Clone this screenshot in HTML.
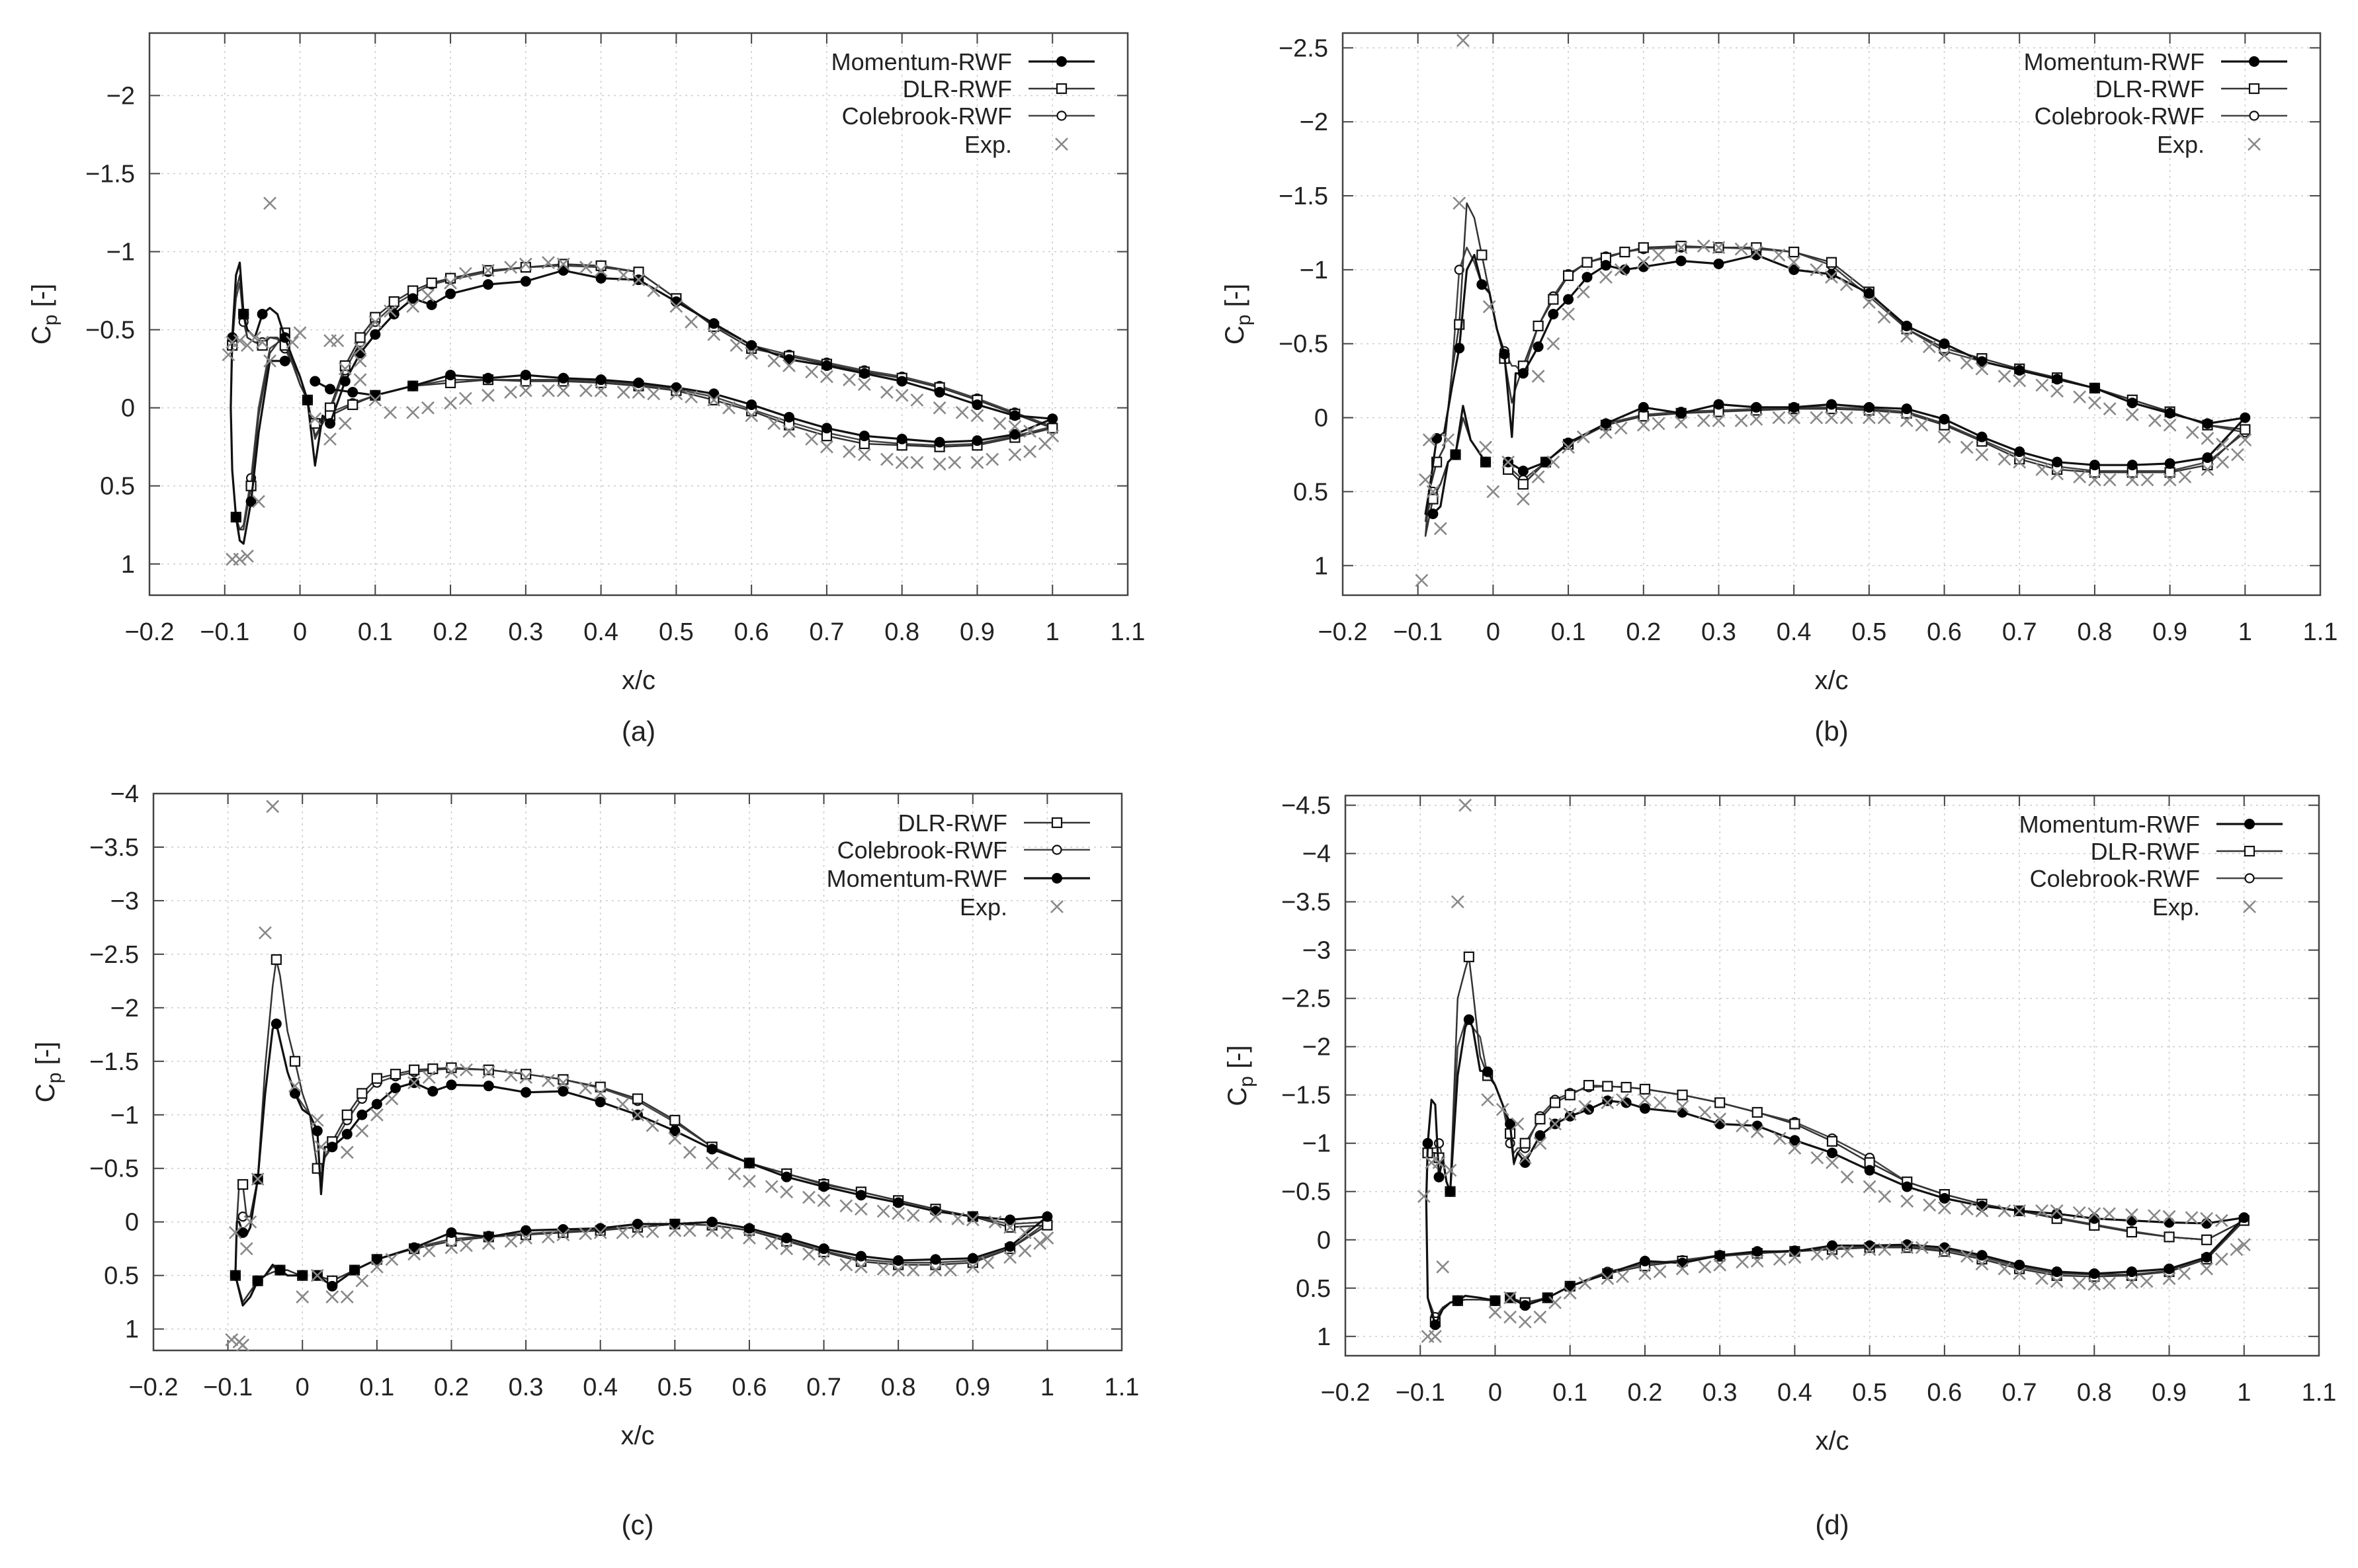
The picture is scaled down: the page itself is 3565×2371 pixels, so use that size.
<!DOCTYPE html>
<html><head><meta charset="utf-8"><style>
html,body{margin:0;padding:0;background:#fff}
svg{display:block}
text{font-family:"Liberation Sans",sans-serif;fill:#222}
</style></head><body>
<svg id="fig" width="3565" height="2371" viewBox="0 0 3565 2371" xmlns="http://www.w3.org/2000/svg"></svg>
<script>
// shared x grids
const xUpper=[0.04,0.06,0.08,0.1,0.125,0.15,0.175,0.2,0.25,0.3,0.35,0.4,0.45,0.5,0.55,0.6,0.65,0.7,0.75,0.8,0.85,0.9,0.95,1.0];
const xLower=[0.95,0.9,0.85,0.8,0.75,0.7,0.65,0.6,0.55,0.5,0.45,0.4,0.35,0.3,0.25,0.2,0.15,0.1,0.07,0.04,0.02];
const expXU=[0.06,0.08,0.1,0.12,0.15,0.17,0.2,0.22,0.25,0.28,0.3,0.33,0.35,0.38,0.4,0.43,0.45,0.47,0.5,0.52,0.55,0.58,0.6,0.63,0.65,0.68,0.7,0.73,0.75,0.78,0.8,0.82,0.85,0.88,0.9,0.93,0.95,0.97];
const expXL=[0.02,0.04,0.06,0.08,0.1,0.12,0.15,0.17,0.2,0.22,0.25,0.28,0.3,0.33,0.35,0.38,0.4,0.43,0.45,0.47,0.5,0.52,0.55,0.57,0.6,0.63,0.65,0.68,0.7,0.73,0.75,0.78,0.8,0.82,0.85,0.87,0.9,0.92,0.95,0.97,0.99,1.0];
const xTicks=[-0.2,-0.1,0,0.1,0.2,0.3,0.4,0.5,0.6,0.7,0.8,0.9,1,1.1];
// panel a
const aLeadX=[-0.02,-0.04,-0.055,-0.065,-0.075,-0.08,-0.085,-0.09,-0.092,-0.09,-0.085,-0.08,-0.075,-0.07,-0.06,-0.05,-0.04,-0.03,-0.02,-0.01,0.0,0.01,0.02,0.03];
const aDlrLead=[-0.48,-0.35,0.05,0.5,0.78,0.78,0.7,0.4,0.0,-0.4,-0.75,-0.85,-0.6,-0.45,-0.42,-0.4,-0.45,-0.45,-0.4,-0.3,-0.15,-0.05,0.18,0.1];
const aColLead=[-0.45,-0.38,0.0,0.45,0.75,0.78,0.7,0.4,0.0,-0.4,-0.7,-0.8,-0.55,-0.45,-0.42,-0.42,-0.45,-0.44,-0.38,-0.28,-0.15,-0.05,0.2,0.1];
const aMomLead=[-0.3,-0.3,0.16,0.6,0.87,0.85,0.7,0.4,0.0,-0.45,-0.85,-0.93,-0.6,-0.5,-0.45,-0.6,-0.64,-0.6,-0.45,-0.32,-0.2,-0.05,0.37,0.05];
const aDlrUp=[0.0,-0.27,-0.45,-0.58,-0.68,-0.75,-0.8,-0.83,-0.88,-0.9,-0.92,-0.91,-0.87,-0.7,-0.52,-0.38,-0.33,-0.28,-0.23,-0.19,-0.13,-0.05,0.04,0.13];
const aColUp=[0.02,-0.24,-0.42,-0.55,-0.66,-0.73,-0.79,-0.82,-0.87,-0.9,-0.91,-0.9,-0.87,-0.7,-0.53,-0.4,-0.34,-0.29,-0.24,-0.2,-0.14,-0.06,0.03,0.12];
const aMomUp=[0.1,-0.17,-0.35,-0.47,-0.6,-0.7,-0.66,-0.73,-0.79,-0.81,-0.88,-0.83,-0.82,-0.68,-0.54,-0.4,-0.31,-0.27,-0.22,-0.17,-0.1,-0.02,0.05,0.07];
const aDlrLo=[0.19,0.24,0.25,0.24,0.23,0.18,0.11,0.02,-0.05,-0.11,-0.14,-0.16,-0.17,-0.17,-0.18,-0.16,-0.14,-0.08,-0.02,0.05,0.1];
const aColLo=[0.18,0.23,0.24,0.23,0.21,0.16,0.09,0.01,-0.07,-0.12,-0.15,-0.17,-0.18,-0.18,-0.18,-0.18,-0.14,-0.08,-0.03,0.03,0.1];
const aMomLo=[0.17,0.21,0.22,0.2,0.18,0.13,0.06,-0.02,-0.09,-0.13,-0.16,-0.18,-0.19,-0.21,-0.19,-0.21,-0.14,-0.08,-0.1,-0.12,-0.17];
const aExpU=[-0.25,-0.38,-0.55,-0.62,-0.65,-0.72,-0.8,-0.86,-0.88,-0.9,-0.92,-0.93,-0.92,-0.9,-0.88,-0.85,-0.82,-0.75,-0.65,-0.55,-0.47,-0.4,-0.35,-0.3,-0.27,-0.23,-0.2,-0.18,-0.15,-0.1,-0.08,-0.05,0.0,0.03,0.05,0.1,0.12,0.15];
const aExpL=[0.07,0.2,0.1,-0.18,-0.05,0.03,0.03,0.0,-0.03,-0.06,-0.08,-0.1,-0.11,-0.11,-0.11,-0.11,-0.11,-0.1,-0.1,-0.09,-0.09,-0.07,-0.05,0.0,0.05,0.1,0.15,0.2,0.25,0.28,0.3,0.33,0.35,0.35,0.36,0.35,0.35,0.33,0.3,0.28,0.23,0.18];
const aExpLeadX=[-0.095,-0.09,-0.08,-0.07,-0.06,-0.05,-0.04,-0.09,-0.08,-0.07,-0.055,-0.04,-0.01,0.0,0.04,0.05,0.08];
const aExpLead=[-0.34,-0.42,-0.43,-0.4,-0.45,-0.42,-0.3,0.97,0.97,0.95,0.6,-1.31,-0.42,-0.48,-0.43,-0.43,-0.3];
const aYTicks=[-2,-1.5,-1,-0.5,0,0.5,1];
// panel b
const bLeadX=[-0.01,-0.03,-0.04,-0.05,-0.06,-0.07,-0.08,-0.09,-0.085,-0.075,-0.065,-0.055,-0.045,-0.035,-0.025,-0.015,-0.005,0.005,0.015,0.025,0.03];
const bDlrLead=[0.3,0.15,0.0,0.25,0.3,0.45,0.55,0.8,0.5,0.3,0.2,-0.3,-0.63,-1.45,-1.35,-1.1,-0.85,-0.6,-0.4,-0.1,-0.2];
const bColLead=[0.3,0.15,0.0,0.25,0.3,0.45,0.5,0.7,0.5,0.3,0.2,-0.3,-1.0,-1.15,-1.05,-0.9,-0.84,-0.6,-0.45,-0.35,-0.35];
const bMomLead=[0.3,0.15,-0.08,0.25,0.3,0.6,0.65,0.65,0.5,0.14,0.1,-0.2,-0.47,-1.0,-1.1,-0.9,-0.85,-0.6,-0.43,0.13,-0.3];
const bDlrUp=[-0.35,-0.62,-0.8,-0.96,-1.05,-1.08,-1.12,-1.15,-1.16,-1.15,-1.15,-1.12,-1.05,-0.85,-0.6,-0.47,-0.4,-0.33,-0.27,-0.2,-0.12,-0.04,0.05,0.08];
const bColUp=[-0.3,-0.62,-0.82,-0.97,-1.05,-1.09,-1.12,-1.14,-1.15,-1.15,-1.14,-1.12,-1.03,-0.82,-0.6,-0.45,-0.38,-0.32,-0.26,-0.2,-0.12,-0.04,0.05,0.1];
const bMomUp=[-0.3,-0.48,-0.7,-0.8,-0.95,-1.03,-1.0,-1.02,-1.06,-1.04,-1.1,-1.0,-0.97,-0.84,-0.62,-0.5,-0.38,-0.32,-0.26,-0.2,-0.1,-0.03,0.04,0.0];
const bDlrLo=[0.32,0.37,0.37,0.37,0.35,0.28,0.16,0.05,-0.03,-0.05,-0.06,-0.06,-0.05,-0.04,-0.03,-0.01,0.05,0.18,0.3,0.45,0.35];
const bColLo=[0.3,0.36,0.36,0.36,0.33,0.26,0.15,0.04,-0.04,-0.06,-0.07,-0.07,-0.06,-0.05,-0.04,-0.02,0.04,0.17,0.3,0.42,0.33];
const bMomLo=[0.27,0.31,0.32,0.32,0.3,0.23,0.13,0.01,-0.06,-0.07,-0.09,-0.07,-0.07,-0.09,-0.03,-0.07,0.04,0.17,0.3,0.36,0.3];
const bExpU=[-0.28,-0.5,-0.7,-0.85,-0.95,-1.0,-1.05,-1.1,-1.15,-1.16,-1.15,-1.14,-1.12,-1.1,-1.05,-1.0,-0.95,-0.9,-0.78,-0.68,-0.55,-0.48,-0.42,-0.37,-0.33,-0.28,-0.25,-0.22,-0.18,-0.14,-0.1,-0.06,-0.02,0.02,0.05,0.1,0.14,0.18];
const bExpL=[0.3,0.55,0.4,0.3,0.2,0.13,0.1,0.07,0.05,0.04,0.03,0.02,0.02,0.02,0.01,0.0,0.0,0.0,0.0,0.0,0.0,0.0,0.02,0.05,0.13,0.2,0.25,0.28,0.3,0.35,0.38,0.4,0.42,0.42,0.42,0.42,0.42,0.4,0.35,0.3,0.25,0.15];
const bExpLeadX=[-0.095,-0.09,-0.085,-0.08,-0.07,-0.06,-0.045,-0.04,-0.01,-0.005,0.0];
const bExpLead=[1.1,0.42,0.15,0.5,0.75,0.15,-1.45,-2.55,0.2,-0.75,0.5];
const bYTicks=[-2.5,-2,-1.5,-1,-0.5,0,0.5,1];
// panel c
const cLeadX=[0.0,-0.01,-0.02,-0.03,-0.04,-0.05,-0.06,-0.07,-0.08,-0.09,-0.088,-0.085,-0.08,-0.075,-0.07,-0.06,-0.05,-0.04,-0.035,-0.03,-0.02,-0.01,0.0,0.01,0.02,0.025,0.03];
const cDlrLead=[0.5,0.48,0.45,0.45,0.47,0.5,0.55,0.65,0.75,0.5,0.0,-0.35,-0.35,-0.05,-0.05,-0.4,-1.45,-2.2,-2.45,-2.3,-1.78,-1.5,-1.2,-1.0,-0.5,-0.4,-0.6];
const cColLead=[0.5,0.48,0.45,0.45,0.42,0.5,0.55,0.65,0.75,0.5,0.0,-0.05,-0.05,-0.05,-0.05,-0.4,-1.2,-1.8,-1.85,-1.7,-1.4,-1.2,-1.1,-1.0,-0.5,-0.4,-0.6];
const cMomLead=[0.5,0.5,0.5,0.45,0.4,0.5,0.55,0.7,0.78,0.5,0.0,0.0,0.1,0.12,0.05,-0.4,-1.2,-1.8,-1.85,-1.7,-1.4,-1.2,-1.05,-1.0,-0.85,-0.26,-0.7];
const cDlrUp=[-0.75,-1.0,-1.2,-1.34,-1.38,-1.42,-1.43,-1.44,-1.42,-1.38,-1.33,-1.26,-1.15,-0.95,-0.7,-0.55,-0.45,-0.35,-0.28,-0.2,-0.12,-0.05,0.05,0.03];
const cColUp=[-0.7,-0.95,-1.15,-1.3,-1.36,-1.4,-1.42,-1.43,-1.42,-1.38,-1.33,-1.25,-1.13,-0.93,-0.7,-0.55,-0.45,-0.36,-0.28,-0.2,-0.12,-0.05,0.02,0.0];
const cMomUp=[-0.7,-0.82,-1.0,-1.1,-1.25,-1.3,-1.22,-1.28,-1.27,-1.21,-1.22,-1.12,-1.0,-0.85,-0.68,-0.55,-0.42,-0.33,-0.25,-0.18,-0.1,-0.05,-0.02,-0.05];
const cDlrLo=[0.25,0.38,0.4,0.4,0.37,0.28,0.18,0.08,0.03,0.02,0.05,0.08,0.1,0.12,0.14,0.18,0.25,0.35,0.45,0.55,0.5];
const cColLo=[0.25,0.36,0.38,0.38,0.35,0.27,0.17,0.08,0.03,0.02,0.05,0.07,0.09,0.11,0.13,0.16,0.24,0.35,0.45,0.55,0.5];
const cMomLo=[0.23,0.34,0.35,0.36,0.32,0.25,0.15,0.06,0.0,0.02,0.02,0.06,0.07,0.08,0.14,0.1,0.24,0.35,0.45,0.6,0.5];
const cExpU=[-0.65,-0.85,-1.0,-1.15,-1.3,-1.35,-1.4,-1.42,-1.4,-1.37,-1.35,-1.32,-1.3,-1.25,-1.2,-1.1,-1.0,-0.9,-0.78,-0.65,-0.55,-0.45,-0.38,-0.33,-0.28,-0.23,-0.2,-0.15,-0.12,-0.1,-0.08,-0.06,-0.05,-0.03,-0.02,0.0,0.05,0.1];
const cExpL=[0.5,0.7,0.7,0.55,0.42,0.35,0.3,0.27,0.24,0.22,0.2,0.18,0.15,0.14,0.12,0.11,0.1,0.1,0.09,0.09,0.08,0.08,0.08,0.1,0.15,0.2,0.25,0.3,0.35,0.4,0.42,0.44,0.45,0.45,0.45,0.45,0.42,0.38,0.33,0.27,0.2,0.15];
const cExpLeadX=[-0.095,-0.09,-0.085,-0.08,-0.075,-0.07,-0.06,-0.05,-0.04,-0.01,0.0,0.02,0.025];
const cExpLead=[1.1,0.1,1.12,1.15,0.25,0.0,-0.4,-2.7,-3.88,-1.27,0.7,-0.95,-0.7];
const cYTicks=[-4,-3.5,-3,-2.5,-2,-1.5,-1,-0.5,0,0.5,1];
// panel d
const dLeadX=[0.0,-0.02,-0.04,-0.05,-0.06,-0.07,-0.08,-0.09,-0.092,-0.09,-0.085,-0.08,-0.075,-0.07,-0.065,-0.06,-0.05,-0.04,-0.035,-0.03,-0.02,-0.01,0.0,0.01,0.02,0.025,0.03];
const dDlrLead=[0.63,0.62,0.62,0.63,0.65,0.7,0.85,0.6,-0.4,-0.9,-0.9,-0.9,-0.85,-0.85,-0.6,-0.5,-2.5,-2.8,-2.93,-2.6,-1.9,-1.7,-1.6,-1.4,-1.1,-0.78,-0.9];
const dColLead=[0.63,0.62,0.62,0.63,0.65,0.7,0.8,0.6,-0.4,-0.9,-0.95,-0.95,-1.0,-0.85,-0.6,-0.5,-2.0,-2.25,-2.28,-2.2,-2.1,-1.7,-1.6,-1.4,-1.0,-0.9,-0.95];
const dMomLead=[0.63,0.6,0.58,0.63,0.65,0.72,0.88,0.6,-0.4,-1.0,-1.45,-1.4,-0.65,-0.85,-0.6,-0.5,-1.7,-2.2,-2.28,-2.2,-1.75,-1.74,-1.6,-1.4,-1.2,-0.8,-0.9];
const dDlrUp=[-1.0,-1.25,-1.42,-1.5,-1.6,-1.59,-1.58,-1.56,-1.5,-1.42,-1.32,-1.2,-1.02,-0.8,-0.6,-0.47,-0.37,-0.3,-0.22,-0.15,-0.08,-0.03,0.0,-0.2];
const dColUp=[-0.95,-1.28,-1.45,-1.52,-1.58,-1.59,-1.58,-1.56,-1.5,-1.42,-1.32,-1.22,-1.05,-0.85,-0.6,-0.47,-0.37,-0.3,-0.23,-0.16,-0.09,-0.03,0.0,-0.2];
const dMomUp=[-0.8,-1.08,-1.2,-1.28,-1.35,-1.44,-1.42,-1.36,-1.32,-1.2,-1.18,-1.03,-0.9,-0.72,-0.55,-0.43,-0.35,-0.3,-0.27,-0.22,-0.2,-0.18,-0.17,-0.23];
const dDlrLo=[0.2,0.33,0.37,0.38,0.37,0.3,0.2,0.12,0.08,0.08,0.1,0.12,0.14,0.17,0.22,0.27,0.35,0.48,0.6,0.65,0.6];
const dColLo=[0.2,0.32,0.36,0.36,0.35,0.28,0.18,0.1,0.07,0.07,0.09,0.11,0.13,0.16,0.21,0.25,0.33,0.48,0.6,0.65,0.6];
const dMomLo=[0.18,0.3,0.33,0.35,0.33,0.26,0.16,0.08,0.05,0.06,0.06,0.12,0.12,0.16,0.24,0.22,0.35,0.48,0.6,0.68,0.6];
const dExpU=[-1.0,-1.2,-1.3,-1.38,-1.42,-1.45,-1.45,-1.42,-1.38,-1.32,-1.25,-1.18,-1.12,-1.05,-0.95,-0.85,-0.8,-0.65,-0.55,-0.45,-0.4,-0.36,-0.33,-0.32,-0.3,-0.3,-0.3,-0.3,-0.3,-0.28,-0.27,-0.27,-0.26,-0.25,-0.24,-0.23,-0.22,-0.2];
const dExpL=[0.6,0.85,0.8,0.65,0.55,0.45,0.4,0.38,0.35,0.33,0.3,0.28,0.26,0.23,0.22,0.2,0.18,0.15,0.14,0.12,0.1,0.1,0.08,0.08,0.12,0.17,0.25,0.3,0.35,0.4,0.43,0.45,0.46,0.45,0.44,0.43,0.4,0.35,0.3,0.2,0.1,0.05];
const dExpLeadX=[-0.095,-0.09,-0.085,-0.08,-0.075,-0.07,-0.06,-0.05,-0.04,-0.01,0.0,0.01,0.02,0.03,0.04];
const dExpLead=[-0.45,1.0,-0.8,1.0,-0.8,0.28,-0.72,-3.5,-4.5,-1.45,0.75,-1.35,0.8,-1.2,-0.85];
const dYTicks=[-4.5,-4,-3.5,-3,-2.5,-2,-1.5,-1,-0.5,0,0.5,1];

const NS='http://www.w3.org/2000/svg';
const svg=document.getElementById('fig');
function mk(tag,attrs,parent){const e=document.createElementNS(NS,tag);for(const k in attrs)e.setAttribute(k,attrs[k]);(parent||svg).appendChild(e);return e;}
function fmt(v){return (v<0?'\u2212':'')+String(Math.abs(Math.round(v*10)/10));}

function panel(P){
  const g=mk('g',{});
  
  
  const sx=v=>P.L+(v+0.2)/1.3*(P.R-P.L);
  const sy=v=>P.T+(v-P.ymin)/(P.ymax-P.ymin)*(P.B-P.T);
  // grid
  xTicks.forEach(t=>{const l=mk('line',{x1:sx(t),x2:sx(t),y1:P.T,y2:P.B,stroke:'#ccc','stroke-width':1.5,'stroke-dasharray':'3 6'},g);
    });
  P.yt.forEach(t=>{const l=mk('line',{x1:P.L,x2:P.R,y1:sy(t),y2:sy(t),stroke:'#ccc','stroke-width':1.5,'stroke-dasharray':'3 6'},g);
    });
  // ticks & labels
  xTicks.forEach(t=>{
    mk('line',{x1:sx(t),x2:sx(t),y1:P.B,y2:P.B-16,stroke:'#444','stroke-width':2},g);
    mk('line',{x1:sx(t),x2:sx(t),y1:P.T,y2:P.T+16,stroke:'#444','stroke-width':2},g);
    const tx=mk('text',{x:sx(t),y:P.B+68,'text-anchor':'middle','font-size':38},g);tx.textContent=fmt(t);
    
  });
  P.yt.forEach(t=>{
    mk('line',{x1:P.L,x2:P.L+16,y1:sy(t),y2:sy(t),stroke:'#444','stroke-width':2},g);
    mk('line',{x1:P.R,x2:P.R-16,y1:sy(t),y2:sy(t),stroke:'#444','stroke-width':2},g);
    const tx=mk('text',{x:P.L-22,y:sy(t)+13,'text-anchor':'end','font-size':38},g);tx.textContent=fmt(t);
    
  });
  const box=mk('rect',{x:P.L,y:P.T,width:P.R-P.L,height:P.B-P.T,fill:'none',stroke:'#444','stroke-width':2.5},g);
  
  // titles
  const xt=mk('text',{x:(P.L+P.R)/2,y:P.B+142,'text-anchor':'middle','font-size':40},g);xt.textContent='x/c';
  
  const cy=P.T+(P.B-P.T)*0.5;
  const yt=mk('text',{transform:`translate(${P.L-150},${cy}) rotate(-90)`,'text-anchor':'middle','font-size':40},g);
  
  const t1=mk('tspan',{},yt);t1.textContent='C';
  const t2=mk('tspan',{dy:10,'font-size':30},yt);t2.textContent='p';
  const t3=mk('tspan',{dy:-10},yt);t3.textContent=' [-]';
  const pl=mk('text',{x:(P.L+P.R)/2,y:P.labY,'text-anchor':'middle','font-size':42},g);pl.textContent='('+P.id+')';
  

  function marker(kind,x,y,parent){
    let m;
    if(kind==='mom') m=mk('circle',{cx:x,cy:y,r:8,fill:'#000'},parent);
    else if(kind==='dlr') m=mk('rect',{x:x-7,y:y-7,width:14,height:14,fill:'#fff',stroke:'#111','stroke-width':2.2},parent);
    else if(kind==='col') m=mk('circle',{cx:x,cy:y,r:6.5,fill:'#fff',stroke:'#111','stroke-width':2.2},parent);
    else { m=mk('path',{d:`M${x-9},${y-9}L${x+9},${y+9}M${x-9},${y+9}L${x+9},${y-9}`,stroke:'#888','stroke-width':2.6,fill:'none'},parent); }
    return m;
  }
  const style={mom:{c:'#111',w:3.2},dlr:{c:'#333',w:2.5},col:{c:'#444',w:2.5}};
  P.series.forEach(S=>{
    const sg=mk('g',{},g);
    
    
    const pts=[];
    P.leadX.forEach((x,i)=>pts.push([x,S.lead[i],i%3===0]));
    xUpper.forEach((x,i)=>pts.push([x,S.up[i],true]));
    xLower.forEach((x,i)=>pts.push([x,S.lo[i],true]));
    const d=pts.map((p,i)=>(i?'L':'M')+sx(p[0]).toFixed(1)+','+sy(p[1]).toFixed(1)).join('');
    const ln=mk('path',{d:d,fill:'none',stroke:style[S.kind].c,'stroke-width':style[S.kind].w,'stroke-linejoin':'round'},sg);
    
    pts.forEach(p=>{if(p[2]){const m=marker(S.kind,sx(p[0]),sy(p[1]),sg);
      }});
  });
  const eg=mk('g',{},g);
  
  const addExp=(xs,ys)=>xs.forEach((x,i)=>{const m=marker('exp',sx(x),sy(ys[i]),eg);
    });
  addExp(expXU,P.expU);addExp(expXL,P.expL);addExp(P.expLeadX,P.expLead);
  // legend
  const lg=mk('g',{},g);
  
  P.legend.forEach((e,i)=>{
    const y=P.legY[i];
    const eg2=mk('g',{},lg);
    
    const tx=mk('text',{x:P.legX,y:y+13,'text-anchor':'end','font-size':36},eg2);tx.textContent=e[1];
    if(e[0]!=='exp') mk('line',{x1:P.legX+25,x2:P.legX+125,y1:y,y2:y,stroke:style[e[0]].c,'stroke-width':style[e[0]].w},eg2);
    marker(e[0],P.legX+75,y,eg2);
  });
}
const LA=[['mom','Momentum-RWF'],['dlr','DLR-RWF'],['col','Colebrook-RWF'],['exp','Exp.']];
const LC=[['dlr','DLR-RWF'],['col','Colebrook-RWF'],['mom','Momentum-RWF'],['exp','Exp.']];
panel({id:'a',L:226,R:1705,T:50,B:900,ymin:-2.4,ymax:1.2,yt:aYTicks,labY:1120,leadX:aLeadX,
  series:[{name:'colebrook',kind:'col',lead:aColLead,up:aColUp,lo:aColLo},{name:'dlr',kind:'dlr',lead:aDlrLead,up:aDlrUp,lo:aDlrLo},{name:'momentum',kind:'mom',lead:aMomLead,up:aMomUp,lo:aMomLo}],
  expU:aExpU,expL:aExpL,expLeadX:aExpLeadX,expLead:aExpLead,legend:LA,legX:1530,legY:[93,134,175,218]});
panel({id:'b',L:2030,R:3508,T:50,B:900,ymin:-2.6,ymax:1.2,yt:bYTicks,labY:1120,leadX:bLeadX,
  series:[{name:'colebrook',kind:'col',lead:bColLead,up:bColUp,lo:bColLo},{name:'dlr',kind:'dlr',lead:bDlrLead,up:bDlrUp,lo:bDlrLo},{name:'momentum',kind:'mom',lead:bMomLead,up:bMomUp,lo:bMomLo}],
  expU:bExpU,expL:bExpL,expLeadX:bExpLeadX,expLead:bExpLead,legend:LA,legX:3333,legY:[93,134,175,218]});
panel({id:'c',L:232,R:1696,T:1200,B:2042,ymin:-4,ymax:1.2,yt:cYTicks,labY:2320,leadX:cLeadX,
  series:[{name:'colebrook',kind:'col',lead:cColLead,up:cColUp,lo:cColLo},{name:'dlr',kind:'dlr',lead:cDlrLead,up:cDlrUp,lo:cDlrLo},{name:'momentum',kind:'mom',lead:cMomLead,up:cMomUp,lo:cMomLo}],
  expU:cExpU,expL:cExpL,expLeadX:cExpLeadX,expLead:cExpLead,legend:LC,legX:1523,legY:[1244,1285,1328,1371]});
panel({id:'d',L:2034,R:3506,T:1203,B:2050,ymin:-4.6,ymax:1.2,yt:dYTicks,labY:2320,leadX:dLeadX,
  series:[{name:'colebrook',kind:'col',lead:dColLead,up:dColUp,lo:dColLo},{name:'dlr',kind:'dlr',lead:dDlrLead,up:dDlrUp,lo:dDlrLo},{name:'momentum',kind:'mom',lead:dMomLead,up:dMomUp,lo:dMomLo}],
  expU:dExpU,expL:dExpL,expLeadX:dExpLeadX,expLead:dExpLead,legend:LA,legX:3326,legY:[1246,1287,1328,1371]});
</script>
</body></html>
